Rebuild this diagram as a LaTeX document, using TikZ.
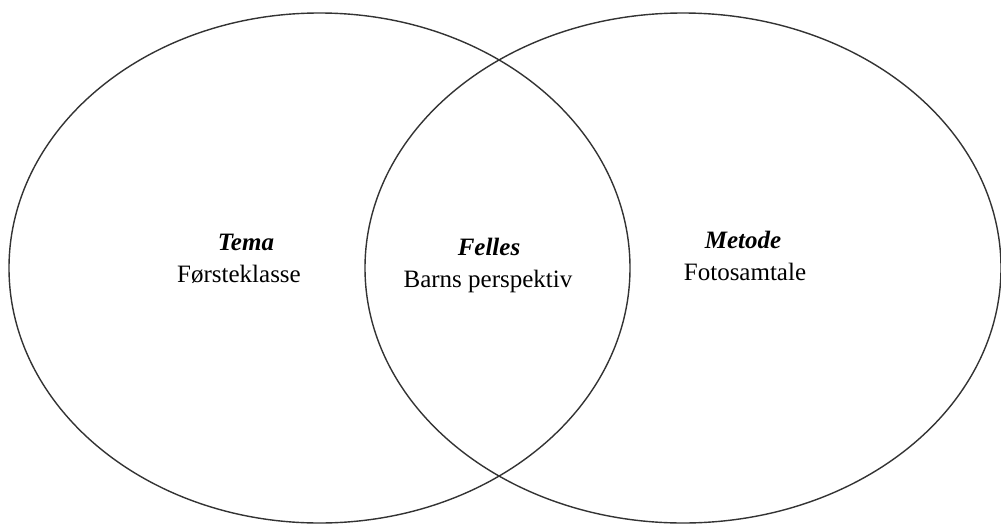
\documentclass[tikz,border=0pt]{standalone}
\usepackage{fontspec}
\setmainfont{Liberation Serif}
\begin{document}
\begin{tikzpicture}[x=1pt,y=1pt,
  ring/.style={draw=black!80,line width=1.4pt},
  head/.style={anchor=base,inner sep=0pt,font=\fontsize{25}{30}\selectfont\bfseries\itshape},
  body/.style={anchor=base,inner sep=0pt,font=\fontsize{25}{30}\selectfont}]
\useasboundingbox (0,0) rectangle (1001,-525);
\draw[ring] (319.5,-268) ellipse [x radius=310.5, y radius=255];
\draw[ring] (683,-268) ellipse [x radius=318, y radius=255];
\node[head] (tema) at (246,-250) {Tema};
\node[body] (forste) at (239,-282) {Førsteklasse};
\node[head] (felles) at (489,-255) {Felles};
\node[body] (barns) at (488,-287) {Barns perspektiv};
\node[head] (metode) at (743,-248) {Metode};
\node[body] (foto) at (745,-280) {Fotosamtale};
\end{tikzpicture}
\end{document}
